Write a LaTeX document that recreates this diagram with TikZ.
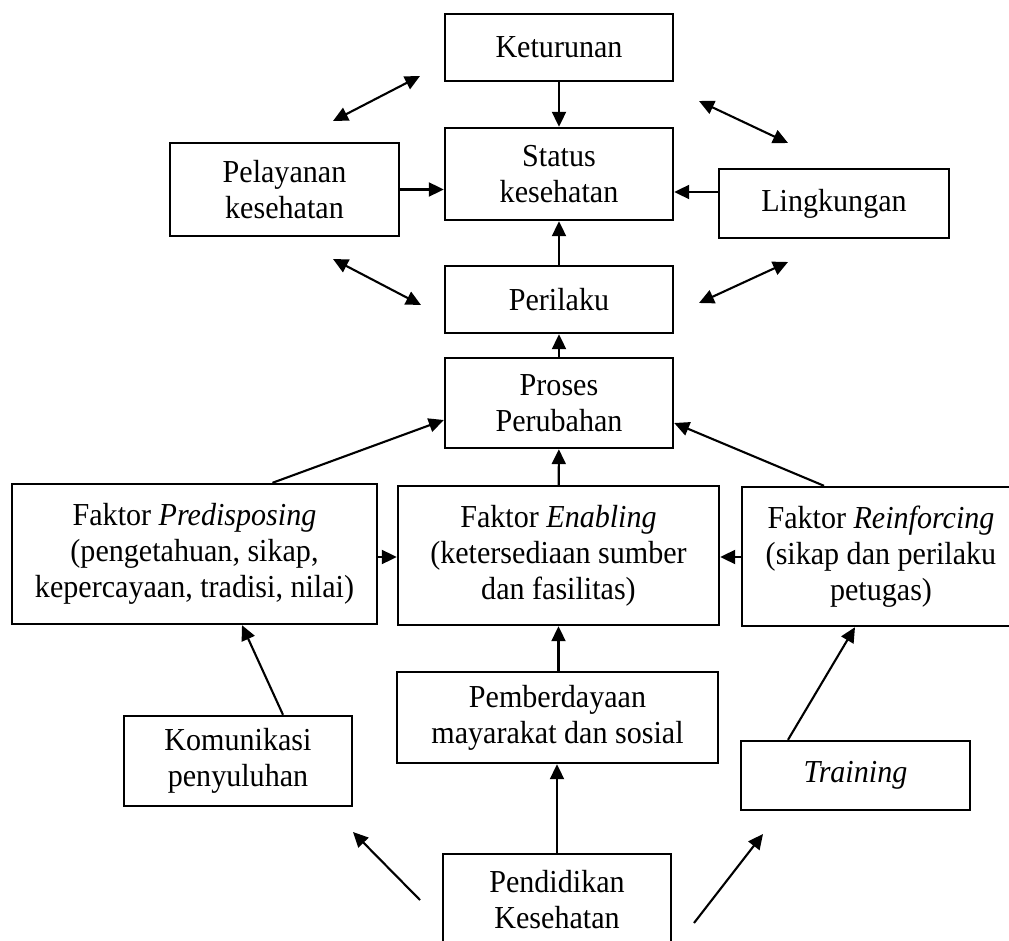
\documentclass[tikz,border=0pt]{standalone}
\usepackage{fontspec}
\setmainfont{Liberation Serif}[FakeStretch=0.94]
\usetikzlibrary{arrows.meta,calc}
\begin{document}
\begin{tikzpicture}[x=1pt,y=-1pt,
  box/.style={draw,line width=2.4pt,align=center,inner sep=0pt,font=\fontsize{32}{36}\selectfont},
  arr/.style={line width=2.1pt,-{Triangle[length=15pt,width=14pt]}},
  darr/.style={line width=2.1pt,{Triangle[length=15pt,width=14pt]}-{Triangle[length=15pt,width=14pt]}}]
\useasboundingbox (0,0) rectangle (1009,941);
\fill[white] (0,0) rectangle (1009,941);
\clip (0,0) rectangle (1009,941);

% nodes
\node[box,minimum width=228pt,minimum height=67pt] (ket) at (559,47.5) {Keturunan};
\node[box,minimum width=228pt,minimum height=92pt] (stat) at (559,174) {Status\\kesehatan};
\node[box,minimum width=229pt,minimum height=93pt] (pel) at (284.5,189.5) {Pelayanan\\kesehatan};
\node[box,minimum width=230pt,minimum height=69pt] (ling) at (834,203.5) {Lingkungan};
\node[box,minimum width=228pt,minimum height=67pt] (per) at (559,299.5) {Perilaku};
\node[box,minimum width=228pt,minimum height=90pt] (pros) at (559,403) {Proses\\Perubahan};
\node[box,minimum width=365pt,minimum height=140pt] (pred) at (194.5,554) {Faktor \textit{Predisposing}\\(pengetahuan, sikap,\\kepercayaan, tradisi, nilai)};
\node[box,minimum width=321pt,minimum height=139pt] (enab) at (558.5,555.5) {Faktor \textit{Enabling}\\(ketersediaan sumber\\dan fasilitas)};
\node[box,minimum width=278pt,minimum height=139pt] (rein) at (881,556.5) {Faktor \textit{Reinforcing}\\(sikap dan perilaku\\petugas)};
\node[box,minimum width=321pt,minimum height=91pt] (pemb) at (557.5,717.5) {Pemberdayaan\\mayarakat dan sosial};
\node[box,minimum width=228pt,minimum height=90pt] (kom) at (238,761) {Komunikasi\\penyuluhan};
\node[box,minimum width=229pt,minimum height=69pt] (train) at (855.5,775.5) {\textit{Training}};
\node[box,minimum width=228pt,minimum height=92pt] (pend) at (557,900) {Pendidikan\\Kesehatan};

% free arrow ends
\coordinate (dl1a) at (333,121); \coordinate (dl1b) at (420,76);
\coordinate (dr1a) at (699,101); \coordinate (dr1b) at (788,143);
\coordinate (dl2a) at (333,259); \coordinate (dl2b) at (421,305);
\coordinate (dr2a) at (699,303); \coordinate (dr2b) at (788,262);
\coordinate (bla) at (420,900); \coordinate (blb) at (353,832);
\coordinate (bra) at (694,923); \coordinate (brb) at (763,834);

% connectors
\draw[arr] (ket) -- (stat);
\draw[arr] (pel.east) -- (pel.east -| stat.west);
\draw[arr] ([yshift=11.5pt]ling.west) -- ([yshift=11.5pt]ling.west -| stat.east);
\draw[arr] (per) -- (stat);
\draw[arr] (pros) -- (per);
\draw[arr] ([yshift=-3pt]pred.east) -- ([yshift=-3pt]pred.east -| enab.west);
\draw[arr] ([yshift=-3pt]pred.east -| rein.west) -- ([yshift=-3pt]pred.east -| enab.east);
\draw[arr] ([xshift=78pt]pred.north) -- ([yshift=-17pt]pros.west);
\draw[arr] ([xshift=-57pt]rein.north) -- ([yshift=-20pt]pros.east);
\draw[arr] (enab) -- (pros);
\draw[arr] (pemb.north -| enab.south) -- (enab.south);
\draw[arr] (pend.north) -- (pend.north |- pemb.south);
\draw[arr] ([xshift=45pt]kom.north) -- ([xshift=47.5pt]pred.south);
\draw[arr] ([xshift=-67.5pt]train.north) -- ([xshift=-26pt]rein.south);

\draw[darr] (dl1a) -- (dl1b);
\draw[darr] (dr1a) -- (dr1b);
\draw[darr] (dl2a) -- (dl2b);
\draw[darr] (dr2a) -- (dr2b);
\draw[arr] (bla) -- (blb);
\draw[arr] (bra) -- (brb);
\end{tikzpicture}
\end{document}
